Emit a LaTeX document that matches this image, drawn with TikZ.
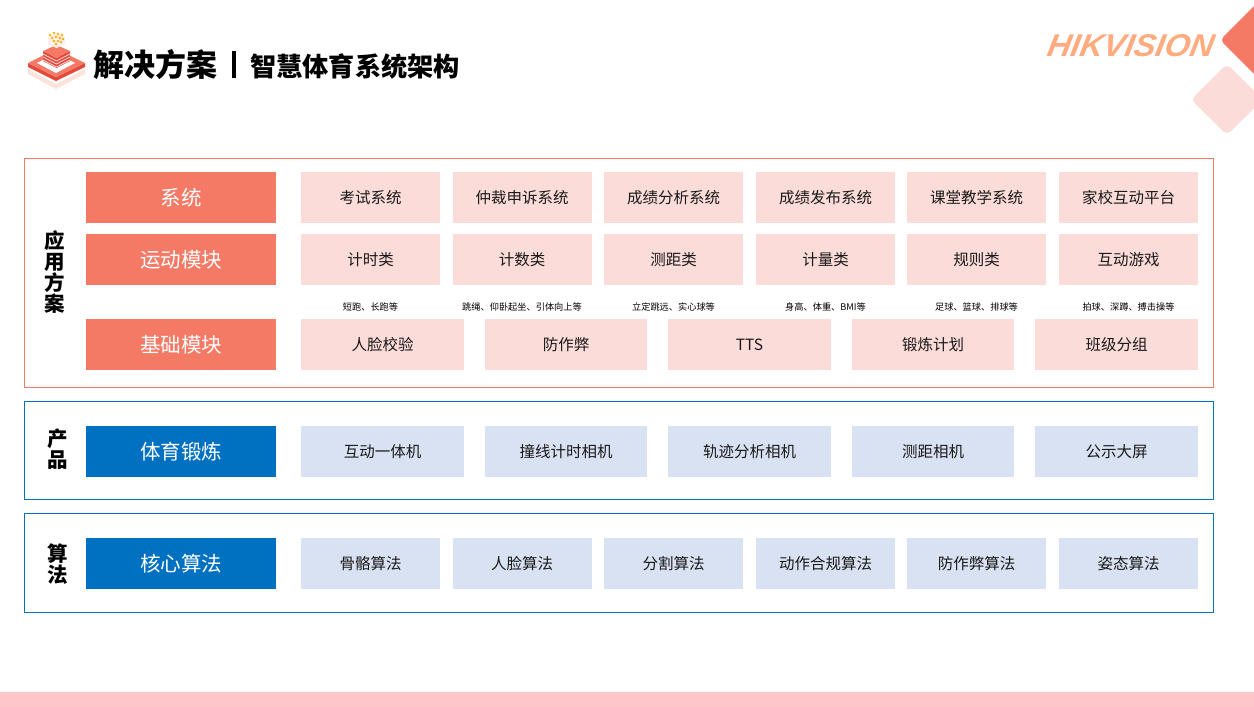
\documentclass[tikz,border=0pt]{standalone}
\usepackage{fontspec}
\setmainfont{Noto Sans CJK SC}
\newfontfamily\hikfont{Liberation Sans}
\definecolor{hikred}{HTML}{F57A66}
\definecolor{hikpink}{HTML}{FBDCD8}
\definecolor{hikblue}{HTML}{0070C0}
\definecolor{hiksky}{HTML}{D9E2F3}
\definecolor{hikband}{HTML}{FDC6C9}
\definecolor{hiklogo}{HTML}{FFAB80}
\definecolor{hikdeep}{HTML}{E5493C}
\tikzset{
  frame/.style={draw=#1,line width=0.9pt,fill=none},
  headbox/.style={fill=#1,text=white,minimum width=190pt,minimum height=51pt,inner sep=0pt,font=\fontsize{20.5}{24}\selectfont},
  itemsix/.style={fill=#1,text=black!90,minimum width=139pt,minimum height=51pt,inner sep=0pt,font=\fontsize{15.5}{18}\selectfont},
  itemfive/.style={fill=#1,text=black!90,minimum width=162.6pt,minimum height=51pt,inner sep=0pt,font=\fontsize{15.5}{18}\selectfont},
  note/.style={inner sep=0pt,font=\fontsize{9.2}{11}\selectfont},
  sidelabel/.style={inner sep=0pt,align=center,font=\fontsize{20.5}{20.8}\selectfont\bfseries},
}
\begin{document}
\begin{tikzpicture}[x=1pt,y=-1pt]
  \useasboundingbox (0,0) rectangle (1254,707);
  \clip (0,0) rectangle (1254,707);

  % Bottom band
  \fill[hikband] (0,692) rectangle (1254,707);

  % Corner diamonds
  \fill[hikred,rounded corners=5pt] (1220,40) -- (1258,2) -- (1296,40) -- (1258,78) -- cycle;
  \fill[hikpink,rounded corners=5pt] (1191,99.5) -- (1227,64) -- (1263,99.5) -- (1227,135) -- cycle;
  \node[inner sep=0pt,xscale=1.03,xslant=0.18,text=hiklogo,font=\fontsize{31.5}{32}\hikfont\bfseries\itshape] (logo) at (1131,46) {HIKVISION};

  % Icon: reflection, base plate, stack, cube of dots
  \fill[hikred!22] (28,69) -- (56,84) -- (85,69) -- (85,74) -- (56,89) -- (28,74) -- cycle;
  \fill[hikdeep] (28,63) -- (56,77) -- (85,63) -- (85,67) -- (56,81) -- (28,67) -- cycle;
  \fill[hikred] (28,63) -- (56,49) -- (85,63) -- (56,77) -- cycle;
  \fill[white] (37,63) -- (56,53) -- (75,63) -- (56,73) -- cycle;
  \fill[hikdeep] (43,51) -- (56.5,58) -- (70,51) -- (70,61) -- (56.5,68) -- (43,61) -- cycle;
  \foreach \y in {54,57,60}
    \draw[hikpink,line width=0.8pt] (43,\y) -- (56.5,{\y+7}) -- (70,\y);
  \fill[hikred] (43,51) -- (56.5,45) -- (70,51) -- (56.5,58) -- cycle;
  \fill[hikpink!45] (48,37) -- (56,33) -- (65,37) -- (65,44) -- (56.5,48) -- (48,44) -- cycle;
  \foreach \px/\py in {50/35,54/33,58/34,62/35,52/38,56/37,60/38,63/39,54/41,58/41,61/42,56/44}
    \fill[orange!60!yellow] (\px,\py) circle (1.3);

  % Title
  \node[inner sep=0pt,anchor=west,font=\fontsize{31}{34}\selectfont\bfseries] (title) at (93,65) {解决方案};
  \fill[black] (232,51) rectangle (236,78);
  \node[inner sep=0pt,anchor=west,font=\fontsize{26.2}{30}\selectfont\bfseries] (subtitle) at (250,66) {智慧体育系统架构};

  % Outer frames
  \draw[frame=hikred] (24.5,158.5) rectangle (1213.5,387.5);
  \draw[frame=hikblue] (24.5,401.5) rectangle (1213.5,499.5);
  \draw[frame=hikblue] (24.5,513.5) rectangle (1213.5,612.5);

  % Side labels
  \node[sidelabel] (lbapp) at (55,272) {应\\用\\方\\案};
  \node[sidelabel] (lbprod) at (58,449.5) {产\\品};
  \node[sidelabel] (lbalgo) at (58,564) {算\\法};

  % Row heads
  \node[headbox=hikred] (hdsys) at (181,197.5) {系统};
  \node[headbox=hikred] (hdsport) at (181,259.5) {运动模块};
  \node[headbox=hikred] (hdbase) at (181,344.5) {基础模块};
  \node[headbox=hikblue] (hdtrain) at (181,451.5) {体育锻炼};
  \node[headbox=hikblue] (hdcore) at (181,563.5) {核心算法};

  % Rows of six
  \foreach \x/\txt [count=\i] in {370.5/考试系统,522/仲裁申诉系统,673.5/成绩分析系统,825.5/成绩发布系统,976.5/课堂教学系统,1128.5/家校互动平台}
    \node[itemsix=hikpink] (sys\i) at (\x,197.5) {\txt};
  \foreach \x/\txt [count=\i] in {370.5/计时类,522/计数类,673.5/测距类,825.5/计量类,976.5/规则类,1128.5/互动游戏}
    \node[itemsix=hikpink] (sport\i) at (\x,259.5) {\txt};
  \foreach \x/\txt [count=\i] in {370.5/短跑、长跑等,522/跳绳、仰卧起坐、引体向上等,673.5/立定跳远、实心球等,825.5/身高、体重、BMI等,976.5/足球、篮球、排球等,1128.5/拍球、深蹲、搏击操等}
    \node[note] (note\i) at (\x,307) {\txt};
  \foreach \x/\txt [count=\i] in {370.5/骨骼算法,522/人脸算法,673.5/分割算法,825.5/动作合规算法,976.5/防作弊算法,1128.5/姿态算法}
    \node[itemsix=hiksky] (core\i) at (\x,563.5) {\txt};

  % Rows of five
  \foreach \x/\txt [count=\i] in {382.5/人脸校验,566/防作弊,749.5/TTS,933/锻炼计划,1116.5/班级分组}
    \node[itemfive=hikpink] (base\i) at (\x,344.5) {\txt};
  \foreach \x/\txt [count=\i] in {382.5/互动一体机,566/撞线计时相机,749.5/轨迹分析相机,933/测距相机,1116.5/公示大屏}
    \node[itemfive=hiksky] (train\i) at (\x,451.5) {\txt};
\end{tikzpicture}
\end{document}
